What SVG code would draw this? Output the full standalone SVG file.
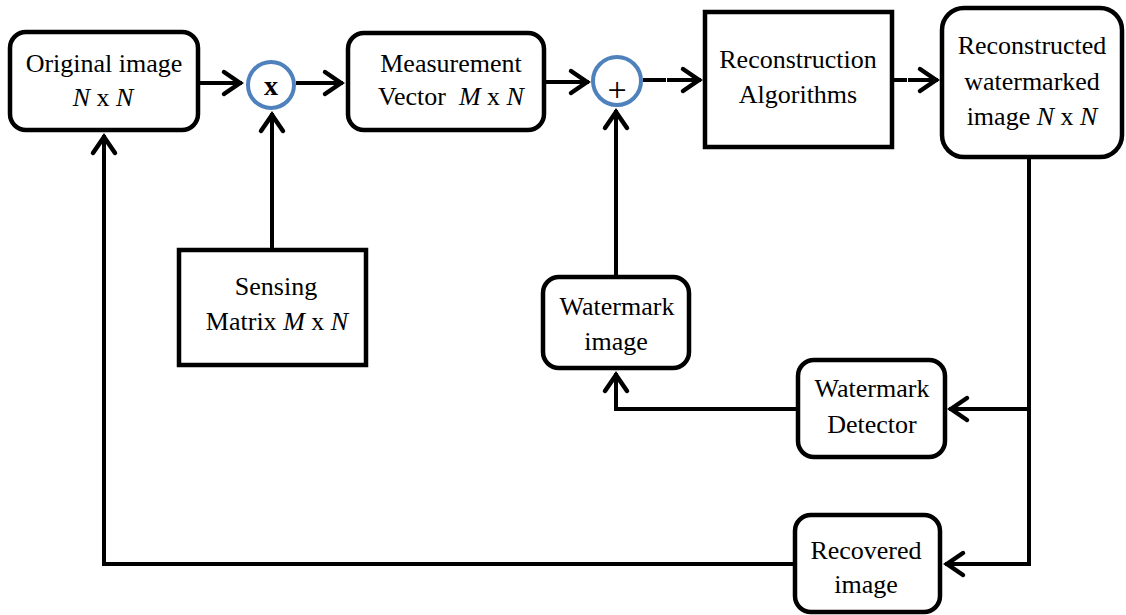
<svg xmlns="http://www.w3.org/2000/svg" width="1126" height="615" viewBox="0 0 1126 615">
<defs>
<style>
.box{fill:#fff;stroke:#000;stroke-width:4.5}
.op{fill:#fff;stroke:#4F81BD;stroke-width:4}
.t{font-family:'Liberation Serif','Times New Roman',serif;font-size:26px;fill:#000;text-anchor:middle}
.i{font-style:italic}
.c{fill:none;stroke:#000;stroke-width:4;stroke-linejoin:miter}
</style>
<marker id="ah" markerUnits="userSpaceOnUse" markerWidth="30" markerHeight="30" refX="2" refY="0" viewBox="-20 -15 30 30" orient="auto" overflow="visible">
<path d="M-16,-11 L0,0 L-16,11" fill="none" stroke="#000" stroke-width="4.5" stroke-linecap="round" stroke-linejoin="miter"/>
</marker>
</defs>
<rect width="1126" height="615" fill="#fff"/>
<g id="connectors">
<line class="c" x1="198" y1="83" x2="242" y2="83" marker-end="url(#ah)"/>
<line class="c" x1="296" y1="83" x2="343" y2="83" marker-end="url(#ah)"/>
<line class="c" x1="272" y1="250" x2="272" y2="113" marker-end="url(#ah)"/>
<line class="c" x1="544" y1="82" x2="589" y2="82" marker-end="url(#ah)"/>
<line class="c" x1="643" y1="80" x2="666" y2="80"/>
<line class="c" x1="667" y1="80" x2="701" y2="80" marker-end="url(#ah)"/>
<line class="c" x1="616" y1="277" x2="616" y2="110" marker-end="url(#ah)"/>
<line class="c" x1="892" y1="80" x2="907" y2="80"/>
<line class="c" x1="908" y1="80" x2="938" y2="80" marker-end="url(#ah)"/>
<polyline class="c" points="1029,157 1029,564 945,564" marker-end="url(#ah)"/>
<line class="c" x1="1029" y1="409" x2="949" y2="409" marker-end="url(#ah)"/>
<polyline class="c" points="798,409 616,409 616,373" marker-end="url(#ah)"/>
<polyline class="c" points="795,564 104,564 104,135" marker-end="url(#ah)"/>
</g>
<g id="original">
<rect class="box" x="10" y="32" width="188" height="98" rx="16"/>
<text class="t" x="104" y="72">Original image</text>
<text class="t" x="103" y="106"><tspan class="i">N</tspan> x <tspan class="i">N</tspan></text>
</g>
<g id="mult">
<circle class="op" cx="271" cy="85" r="23"/>
<text class="t" x="271" y="95" style="font-size:28px;font-weight:bold">x</text>
</g>
<g id="measurement">
<rect class="box" x="348" y="33" width="196" height="97" rx="16"/>
<text class="t" x="451" y="72">Measurement</text>
<text class="t" x="451" y="105" xml:space="preserve">Vector  <tspan class="i">M</tspan> x <tspan class="i">N</tspan></text>
</g>
<g id="plus">
<circle class="op" cx="617" cy="81" r="24"/>
<text class="t" x="617" y="101" style="font-size:34px">+</text>
</g>
<g id="reconstruction">
<rect class="box" x="705" y="12" width="187" height="135"/>
<text class="t" x="798" y="68">Reconstruction</text>
<text class="t" x="798" y="103">Algorithms</text>
</g>
<g id="reconstructed">
<rect class="box" x="942" y="8" width="180" height="149" rx="22"/>
<text class="t" x="1032" y="54">Reconstructed</text>
<text class="t" x="1032" y="90">watermarked</text>
<text class="t" x="1032" y="125">image <tspan class="i">N</tspan> x <tspan class="i">N</tspan></text>
</g>
<g id="sensing">
<rect class="box" x="179" y="250" width="187" height="115"/>
<text class="t" x="276" y="295">Sensing</text>
<text class="t" x="277" y="330">Matrix <tspan class="i">M</tspan> x <tspan class="i">N</tspan></text>
</g>
<g id="watermark">
<rect class="box" x="543" y="277" width="146" height="91" rx="16"/>
<text class="t" x="617" y="315">Watermark</text>
<text class="t" x="616" y="350">image</text>
</g>
<g id="detector">
<rect class="box" x="798" y="360" width="147" height="97" rx="16"/>
<text class="t" x="872" y="397">Watermark</text>
<text class="t" x="872" y="433">Detector</text>
</g>
<g id="recovered">
<rect class="box" x="795" y="515" width="145" height="97" rx="16"/>
<text class="t" x="866" y="559">Recovered</text>
<text class="t" x="866" y="593">image</text>
</g>
</svg>
